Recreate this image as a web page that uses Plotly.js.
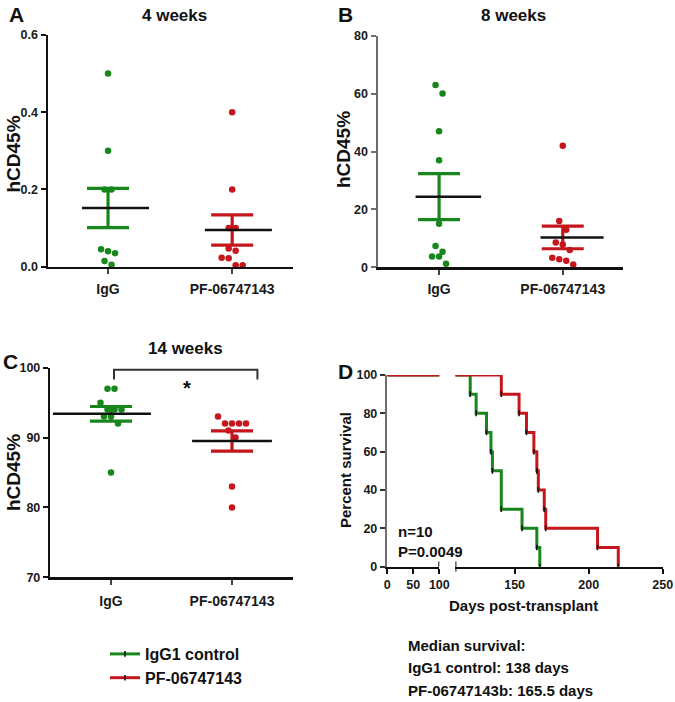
<!DOCTYPE html>
<html><head><meta charset="utf-8">
<script src="https://cdn.plot.ly/plotly-3.0.1.min.js"></script>
<style>html,body{margin:0;padding:0;background:#fff}</style>
</head><body>
<div id="chart" style="width:675px;height:702px"></div>
<script>
// ---------------- data ----------------
const groups = ['IgG', 'PF-06747143'];

const wk4IgG = [0.5, 0.3, 0.2, 0.2, 0.045, 0.04, 0.035, 0.015, 0.005];
const wk4PF  = [0.4, 0.2, 0.1, 0.1, 0.047, 0.041, 0.023, 0.022, 0.004, 0.004];
const wk4Mean = [0.152, 0.095];
const wk4Sem  = [0.051, 0.039];

const wk8IgG = [63, 60, 47, 37, 15, 7.4, 5.4, 3.7, 3.7, 1.2];
const wk8PF  = [42, 16, 13, 8.6, 7.9, 6, 3.3, 2.8, 2.3, 1.0];
const wk8Mean = [24.4, 10.3];
const wk8Sem  = [7.95, 3.9];

const wk14IgG = [97, 97, 95, 94, 94, 94, 93, 93, 92, 85];
const wk14PF  = [93, 92, 92, 92, 92, 91, 90, 83, 80];
const wk14Mean = [93.4, 89.5];
const wk14Sem  = [1.05, 1.45];

const survDaysIgG1 = [120, 124, 131, 134, 135, 141, 155, 165, 167];
const survPctIgG1  = [90, 80, 70, 60, 50, 30, 20, 10, 0];
const survDaysPF   = [141, 153, 158, 163, 165, 166, 170, 171, 206, 220];
const survPctPF    = [90, 80, 70, 60, 50, 40, 30, 20, 10, 0];

const seriesNames = ['IgG1 control', 'PF-06747143'];
const medianText = ['Median survival:', 'IgG1 control: 138 days', 'PF-06747143b: 165.5 days'];
const statText = ['n=10', 'P=0.0049'];

// ---------------- style / layout ----------------
const W = 675, H = 702;
const GREEN = '#17861b', RED = '#c5161d';
const FONT = 'Liberation Sans, Arial, sans-serif';
const fx = px => px / W;
const fy = py => 1 - py / H;

const boxes = {
  A: {x0: 47.7, x1: 293, y0: 35, y1: 266.7, xr: [-0.486, 1.49], yr: [0, 0.6], dt: 0.2, fmt: '.1f'},
  B: {x0: 377.7, x1: 623, y0: 35.7, y1: 267.3, xr: [-0.496, 1.487], yr: [0, 80], dt: 20, fmt: ''},
  C: {x0: 50, x1: 293, y0: 367.7, y1: 577.3, xr: [-0.504, 1.504], yr: [70, 100], dt: 10, fmt: ''}
};
const D = {xl0: 387.3, xl1: 439.3, xr0: 455.4, xr1: 662.7, y0: 375, y1: 566.7};

// beeswarm-style horizontal spread of points sharing a similar value
function swarm(vals, center, b) {
  const pxX = (b.x1 - b.x0) / (b.xr[1] - b.xr[0]);
  const pxY = (b.y1 - b.y0) / (b.yr[1] - b.yr[0]);
  const diam = 6.5, gap = 7;
  const idx = vals.map((v, i) => i).sort((a, c) => vals[c] - vals[a]);
  const xs = new Array(vals.length);
  let i = 0;
  while (i < idx.length) {
    const start = vals[idx[i]];
    const row = [idx[i]];
    let j = i + 1;
    while (j < idx.length && (start - vals[idx[j]]) * pxY < diam * 1.35) { row.push(idx[j]); j++; }
    row.forEach((k, r) => { xs[k] = center + (r - (row.length - 1) / 2) * gap / pxX; });
    i = j;
  }
  return xs;
}

const traces = [];
function dotPanel(key, xa, ya, sets, mean, sem, meanSpans) {
  const b = boxes[key];
  const cols = [GREEN, RED];
  sets.forEach((vals, g) => {
    traces.push({x: swarm(vals, g, b), y: vals, xaxis: xa, yaxis: ya, type: 'scatter', mode: 'markers',
      marker: {color: cols[g], size: 6.5}, cliponaxis: false, showlegend: false, hoverinfo: 'y'});
  });
  sets.forEach((vals, g) => {
    traces.push({x: [g], y: [mean[g]], xaxis: xa, yaxis: ya, type: 'scatter', mode: 'markers',
      marker: {color: 'rgba(0,0,0,0)', size: 1}, cliponaxis: false, showlegend: false,
      error_y: {type: 'data', array: [sem[g]], visible: true, color: cols[g], thickness: 3.2, width: 21}});
  });
  sets.forEach((vals, g) => {
    traces.push({x: [g + meanSpans[g][0], g + meanSpans[g][1]], y: [mean[g], mean[g]], xaxis: xa, yaxis: ya,
      type: 'scatter', mode: 'lines', line: {color: '#111', width: 2.5}, cliponaxis: false,
      showlegend: false, hoverinfo: 'skip'});
  });
}

dotPanel('A', 'x', 'y', [wk4IgG, wk4PF], wk4Mean, wk4Sem, [[-0.21, 0.33], [-0.22, 0.32]]);
dotPanel('B', 'x2', 'y2', [wk8IgG, wk8PF], wk8Mean, wk8Sem, [[-0.19, 0.34], [-0.18, 0.33]]);
dotPanel('C', 'x3', 'y3', [wk14IgG, wk14PF], wk14Mean, wk14Sem, [[-0.48, 0.33], [-0.33, 0.33]]);

// survival curves: left segment (0-100) and right segment (110-250) of the broken axis
const surv = [
  {days: survDaysIgG1, pct: survPctIgG1, color: GREEN, name: seriesNames[0]},
  {days: survDaysPF, pct: survPctPF, color: RED, name: seriesNames[1]}
];
surv.forEach(s => {
  traces.push({x: [0].concat(s.days), y: [100].concat(s.pct), xaxis: 'x4', yaxis: 'y4', type: 'scatter',
    mode: 'lines', line: {color: s.color, width: 3, shape: 'hv'}, showlegend: false, hoverinfo: 'skip'});
});
surv.forEach(s => {
  traces.push({x: [0].concat(s.days), y: [100].concat(s.pct), xaxis: 'x5', yaxis: 'y4', type: 'scatter',
    mode: 'lines+markers', name: s.name, line: {color: s.color, width: 3, shape: 'hv'},
    marker: {symbol: 'line-ns', size: 4, color: '#111', line: {color: '#111', width: 1.6}}});
});

const TICKFONT = {family: FONT, size: 12.5, color: '#1a1a1a', weight: 'bold'};
function yAx(b, lineColor) {
  return {domain: [fy(b.y1), fy(b.y0)], range: b.yr, dtick: b.dt, tick0: b.yr[0], tickformat: b.fmt,
    showgrid: false, zeroline: false, showline: true, linecolor: lineColor, linewidth: 2.2,
    ticks: 'outside', ticklen: 5, tickwidth: 2, tickcolor: lineColor,
    tickfont: TICKFONT, fixedrange: true};
}
function xAx(b, anchor) {
  return {domain: [fx(b.x0), fx(b.x1)], range: b.xr, anchor: anchor, tickvals: [0, 1], ticktext: groups,
    showgrid: false, zeroline: false, showline: true, linecolor: '#111', linewidth: 2.2,
    ticks: 'outside', ticklen: 5, tickwidth: 2, tickcolor: '#444', ticklabelstandoff: 3,
    tickfont: {family: FONT, size: 14, color: '#1a1a1a', weight: 'bold'}, fixedrange: true};
}

const layout = {
  width: W, height: H, margin: {l: 0, r: 0, t: 0, b: 0},
  paper_bgcolor: '#fff', plot_bgcolor: 'rgba(0,0,0,0)',
  font: {family: FONT, color: '#111'},
  xaxis: xAx(boxes.A, 'y'), yaxis: Object.assign(yAx(boxes.A, '#111'), {anchor: 'x'}),
  xaxis2: xAx(boxes.B, 'y2'), yaxis2: Object.assign(yAx(boxes.B, '#6e6e6e'), {anchor: 'x2'}),
  xaxis3: Object.assign(xAx(boxes.C, 'y3'), {ticklabelstandoff: 5}),
  yaxis3: Object.assign(yAx(boxes.C, '#111'), {anchor: 'x3'}),
  xaxis4: {domain: [fx(D.xl0), fx(D.xl1)], range: [0, 100], anchor: 'y4', tickvals: [0, 50, 100],
    showgrid: false, zeroline: false, showline: true, linecolor: '#111', linewidth: 2.2,
    ticks: 'outside', ticklen: 5, tickwidth: 2, tickcolor: '#111',
    tickfont: TICKFONT, fixedrange: true},
  xaxis5: {domain: [fx(D.xr0), fx(D.xr1)], range: [110, 250], anchor: 'y4', tickvals: [150, 200, 250],
    showgrid: false, zeroline: false, showline: true, linecolor: '#111', linewidth: 2.2,
    ticks: 'outside', ticklen: 5, tickwidth: 2, tickcolor: '#111',
    tickfont: TICKFONT, fixedrange: true},
  yaxis4: {domain: [fy(D.y1), fy(D.y0)], range: [0, 100], dtick: 20, anchor: 'x4',
    showgrid: false, zeroline: false, showline: true, linecolor: '#6e6e6e', linewidth: 2.5,
    ticks: 'outside', ticklen: 5, tickwidth: 2, tickcolor: '#333',
    tickfont: TICKFONT, fixedrange: true},
  showlegend: true,
  legend: {x: fx(105), y: fy(637), xanchor: 'left', yanchor: 'top', bgcolor: 'rgba(0,0,0,0)',
    borderwidth: 0, itemwidth: 30, font: {family: FONT, size: 16, color: '#111', weight: 'bold'}},
  shapes: [
    {type: 'path', xref: 'x3', yref: 'y3', path: 'M0.025,98.3 L0.025,99.7 L1.21,99.7 L1.21,98.3',
      line: {color: '#333', width: 2}},
    {type: 'line', xref: 'x4', yref: 'paper', x0: 100, x1: 100, y0: fy(561.5), y1: fy(566.7),
      line: {color: '#111', width: 2}},
    {type: 'line', xref: 'x5', yref: 'paper', x0: 110, x1: 110, y0: fy(561.5), y1: fy(571.7),
      line: {color: '#111', width: 2}}
  ],
  annotations: []
};

function ann(text, px, py, size, opts) {
  layout.annotations.push(Object.assign({text: text, xref: 'paper', yref: 'paper', x: fx(px), y: fy(py),
    showarrow: false, xanchor: 'center', yanchor: 'middle',
    font: {family: FONT, size: size, color: '#111', weight: 'bold'}}, opts || {}));
}
// panel letters
ann('A', 16, 14, 21); ann('B', 345, 14, 21); ann('C', 11, 361, 21); ann('D', 345, 371, 21);
// panel titles
ann('4 weeks', 174.5, 15, 17); ann('8 weeks', 513, 15, 17); ann('14 weeks', 185, 349, 17);
// axis titles
ann('hCD45%', 12.5, 154, 19, {textangle: -90});
ann('hCD45%', 343, 150, 19, {textangle: -90});
ann('hCD45%', 13, 473, 19, {textangle: -90});
ann('Percent survival', 345, 470, 15, {textangle: -90});
ann('Days post-transplant', 523, 605, 15);
// significance star
ann('*', 187, 388, 20);
// stats text in D
ann(statText[0], 396, 531, 15, {xanchor: 'left'});
ann(statText[1], 396, 551, 15, {xanchor: 'left'});
// median survival block
ann(medianText[0], 406, 645, 15, {xanchor: 'left'});
ann(medianText[1], 406, 667, 15, {xanchor: 'left'});
ann(medianText[2], 406, 690, 15, {xanchor: 'left'});

Plotly.newPlot('chart', traces, layout, {staticPlot: true, displayModeBar: false});
</script>
</body></html>
